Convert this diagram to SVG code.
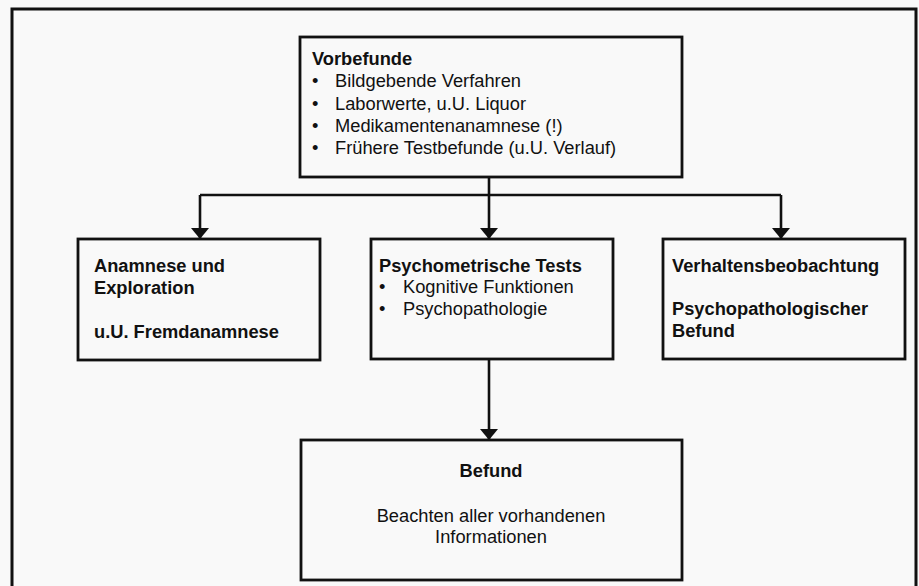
<svg xmlns="http://www.w3.org/2000/svg" width="919" height="586" viewBox="0 0 919 586">
<defs>
<style>
.box{fill:none;stroke:#111;stroke-width:2.8}
.frame{fill:none;stroke:#111;stroke-width:3}
.con{fill:none;stroke:#111;stroke-width:2.6}
text{font-family:"Liberation Sans",Arial,Helvetica,sans-serif;font-size:18.3px;fill:#111}
.b{font-weight:bold}
.c{text-anchor:middle}
</style>
<marker id="ah" viewBox="0 0 11 18" refX="11" refY="9" markerWidth="11" markerHeight="18" markerUnits="userSpaceOnUse" orient="auto">
<path d="M0,0 L11,9 L0,18 Z" fill="#111"/>
</marker>
</defs>
<rect x="0" y="0" width="919" height="586" fill="#f9f9f9"/>
<path class="frame" d="M12,590 L12,9 L916,9 L916,590"/>
<g id="connectors">
<path class="con" d="M489,177 L489,195"/>
<path class="con" d="M200,195 L781,195"/>
<path class="con" d="M200,195 L200,239" marker-end="url(#ah)"/>
<path class="con" d="M489,195 L489,239" marker-end="url(#ah)"/>
<path class="con" d="M781,195 L781,239" marker-end="url(#ah)"/>
<path class="con" d="M489,359 L489,440" marker-end="url(#ah)"/>
</g>
<g id="vorbefunde">
<rect class="box" x="300" y="37" width="382" height="140" fill="#fff"/>
<text class="b" x="312" y="65">Vorbefunde</text>
<text x="312" y="87">•</text><text x="335" y="87">Bildgebende Verfahren</text>
<text x="312" y="110">•</text><text x="335" y="110">Laborwerte, u.U. Liquor</text>
<text x="312" y="132">•</text><text x="335" y="132">Medikamentenanamnese (!)</text>
<text x="312" y="154">•</text><text x="335" y="154">Frühere Testbefunde (u.U. Verlauf)</text>
</g>
<g id="anamnese">
<rect class="box" x="78" y="239" width="242" height="121" fill="#fff"/>
<text class="b" x="94" y="272">Anamnese und</text>
<text class="b" x="94" y="294">Exploration</text>
<text class="b" x="94" y="338">u.U. Fremdanamnese</text>
</g>
<g id="psychometrie">
<rect class="box" x="371" y="239" width="242" height="120" fill="#fff"/>
<text class="b" x="379" y="272">Psychometrische Tests</text>
<text x="379" y="293">•</text><text x="403" y="293">Kognitive Funktionen</text>
<text x="379" y="315">•</text><text x="403" y="315">Psychopathologie</text>
</g>
<g id="verhalten">
<rect class="box" x="663" y="239" width="242" height="120" fill="#fff"/>
<text class="b" x="672" y="272">Verhaltensbeobachtung</text>
<text class="b" x="672" y="315">Psychopathologischer</text>
<text class="b" x="672" y="337">Befund</text>
</g>
<g id="befund">
<rect class="box" x="301" y="440" width="381" height="140" fill="#fff"/>
<text class="b c" x="491" y="477">Befund</text>
<text class="c" x="491" y="522">Beachten aller vorhandenen</text>
<text class="c" x="491" y="543">Informationen</text>
</g>
</svg>
